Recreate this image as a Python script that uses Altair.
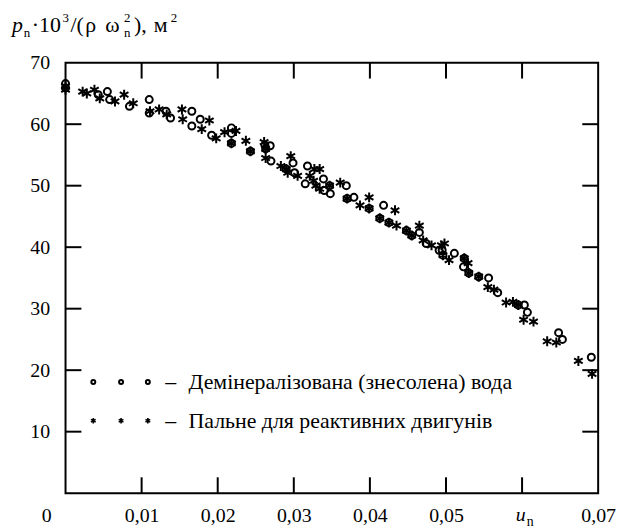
import altair as alt
import pandas as pd

# ---- data ----
water_x = [0.0, 0.0, 0.0043, 0.0055, 0.0058, 0.0084, 0.011, 0.011, 0.0132, 0.0138,
           0.0166, 0.0166, 0.0177, 0.0192, 0.0218, 0.0218, 0.0218, 0.0243, 0.0262, 0.0269,
           0.0263, 0.027, 0.029, 0.0299, 0.0301, 0.0318, 0.0315, 0.0339, 0.034, 0.0347,
           0.0348, 0.0369, 0.037, 0.0379, 0.0399, 0.0418, 0.0413, 0.0425, 0.0448, 0.0465,
           0.0455, 0.0474, 0.0495, 0.0491, 0.0496, 0.0511, 0.0524, 0.0523, 0.053, 0.0543,
           0.0556, 0.0568, 0.0595, 0.0603, 0.0607, 0.0648, 0.0653, 0.0691]
water_y = [66.6, 65.9, 64.8, 65.3, 64.0, 62.9, 64.0, 61.8, 62.1, 61.0,
           62.1, 59.7, 60.8, 58.2, 59.4, 58.5, 56.9, 55.6, 56.6, 56.5,
           56.0, 54.0, 52.7, 53.7, 52.1, 53.2, 50.3, 51.1, 49.2, 50.0,
           48.7, 50.0, 47.9, 48.1, 46.3, 46.8, 44.7, 44.0, 42.7, 42.4,
           41.9, 40.6, 39.5, 39.5, 38.7, 39.0, 38.2, 36.8, 35.8, 35.2,
           35.0, 32.6, 30.6, 30.6, 29.4, 26.1, 25.0, 22.1]

fuel_x = [0.0, 0.0, 0.00225, 0.0028, 0.0038, 0.0045, 0.0065, 0.0077, 0.0089, 0.0111,
          0.0123, 0.0133, 0.0153, 0.0154, 0.0189, 0.0179, 0.0198, 0.0209, 0.0224, 0.0218,
          0.0237, 0.0243, 0.0261, 0.0263, 0.0263, 0.0283, 0.0296, 0.029, 0.0292, 0.0305,
          0.0327, 0.0321, 0.0329, 0.0326, 0.0334, 0.0347, 0.0334, 0.0361, 0.037, 0.0387,
          0.0399, 0.0399, 0.0433, 0.0413, 0.0425, 0.0435, 0.0448, 0.0465, 0.0455, 0.047,
          0.0481, 0.0494, 0.0498, 0.0496, 0.0504, 0.0524, 0.0529, 0.053, 0.0543, 0.0555,
          0.0563, 0.0579, 0.0588, 0.0595, 0.0602, 0.0615, 0.0633, 0.0645, 0.0674, 0.0692]
fuel_y = [66.2, 65.6, 65.3, 65.0, 65.6, 64.2, 63.7, 64.8, 63.4, 62.1,
          62.4, 61.6, 62.4, 60.8, 60.6, 59.2, 57.7, 58.7, 58.9, 56.9,
          57.3, 55.6, 57.1, 56.0, 54.5, 53.2, 54.8, 52.7, 52.1, 51.6,
          52.7, 51.6, 50.0, 50.8, 52.7, 50.0, 49.5, 50.5, 47.9, 46.8,
          48.1, 46.3, 46.0, 44.7, 44.0, 43.5, 42.7, 43.5, 41.9, 41.1,
          40.3, 40.3, 40.6, 38.7, 37.9, 38.2, 37.4, 35.8, 35.2, 33.5,
          33.1, 31.0, 31.1, 30.6, 28.2, 27.9, 24.7, 24.5, 21.5, 19.4]

x_ticks = [0.01, 0.02, 0.03, 0.04, 0.05, 0.06]
x_labels = [0.01, 0.02, 0.03, 0.04, 0.05, 0.06, 0.07]
y_ticks = [10, 20, 30, 40, 50, 60]
y_labels = [10, 20, 30, 40, 50, 60, 70]
legend_water = "Демінералізована (знесолена) вода"
legend_fuel = "Пальне для реактивних двигунів"

W, H = 537, 434
TL = 16
FONT = "Liberation Serif"
STAR = "M0,-1L0,1M-0.87,-0.5L0.87,0.5M-0.87,0.5L0.87,-0.5"

xs = alt.Scale(domain=[0, 0.07], nice=False, zero=False)
ys = alt.Scale(domain=[0, 70], nice=False, zero=False)

water = pd.DataFrame({"x": water_x, "y": water_y})
fuel = pd.DataFrame({"x": fuel_x, "y": fuel_y})

base_x = alt.X("x:Q", scale=xs, title=None,
               axis=alt.Axis(values=x_labels, domain=False, ticks=False, grid=False,
                             labelExpr="datum.value > 0.0595 && datum.value < 0.0605 ? '' : replace(format(datum.value, '.2f'), '.', ',')",
                             labelFont=FONT, labelFontSize=20, labelColor="black",
                             labelPadding=13, labelFlush=False, labelOverlap=False))
base_y = alt.Y("y:Q", scale=ys, title=None,
               axis=alt.Axis(values=y_labels, domain=False, ticks=False, grid=False,
                             format="d", labelFont=FONT, labelFontSize=20, labelColor="black",
                             labelPadding=16, labelFlush=False, labelOverlap=False))

pts_w = alt.Chart(water).mark_point(shape="circle", filled=False, size=50, strokeWidth=2,
                                     color="black", opacity=1).encode(x=base_x, y=base_y)
pts_f = alt.Chart(fuel).mark_point(shape=STAR, filled=False, size=100, strokeWidth=2,
                                    color="black", opacity=1).encode(x="x:Q", y="y:Q")

xt = pd.DataFrame({"x": x_ticks})
yt = pd.DataFrame({"y": y_ticks})
tick_b = alt.Chart(xt).mark_rule(strokeWidth=2, color="black").encode(
    x="x:Q", y=alt.value(H), y2=alt.value(H - TL))
tick_t = alt.Chart(xt).mark_rule(strokeWidth=2, color="black").encode(
    x="x:Q", y=alt.value(0), y2=alt.value(TL))
tick_l = alt.Chart(yt).mark_rule(strokeWidth=2, color="black").encode(
    y="y:Q", x=alt.value(0), x2=alt.value(TL))
tick_r = alt.Chart(yt).mark_rule(strokeWidth=2, color="black").encode(
    y="y:Q", x=alt.value(W), x2=alt.value(W - TL))

one = alt.Data(values=[{}])


def txt(t, x, y, size=20, italic=False, align="left", baseline="alphabetic"):
    return alt.Chart(one).mark_text(text=t, font=FONT, fontSize=size,
                                    fontStyle="italic" if italic else "normal",
                                    align=align, baseline=baseline, color="black").encode(
        x=alt.value(x), y=alt.value(y))


def sym(shape, x, y, size, sw):
    return alt.Chart(one).mark_point(shape=shape, filled=False, size=size, strokeWidth=sw,
                                     color="black", opacity=1).encode(
        x=alt.value(x), y=alt.value(y))


ox, oy = 66, 61  # plot origin in page pixels
T, S = 22, 13
texts = [
    txt("0", 47 - ox, 518 - oy, align="center", baseline="middle"),
    txt("u", 525 - ox, 517 - oy, italic=True, align="center", baseline="middle"),
    txt("n", 531 - ox, 528 - oy, size=14),
    # y title pieces
    txt("p", 12 - ox, 30 - oy, size=T, italic=True),
    txt("n", 24 - ox, 35 - oy, size=S),
    txt("·10", 32 - ox, 30 - oy, size=T),
    txt("3", 63 - ox, 20 - oy, size=S),
    txt("/(", 71 - ox, 30 - oy, size=T),
    txt("ρ", 86 - ox, 30 - oy, size=T),
    txt("ω", 106 - ox, 30 - oy, size=T),
    txt("n", 125 - ox, 35 - oy, size=S),
    txt("2", 125 - ox, 20 - oy, size=S),
    txt("),", 135 - ox, 30 - oy, size=T),
    txt("м", 155 - ox, 30 - oy, size=T),
    txt("2", 172 - ox, 20 - oy, size=S),
    # legend
    txt("–", 172 - ox, 383 - oy, size=22, align="center", baseline="middle"),
    txt("–", 172 - ox, 422 - oy, size=22, align="center", baseline="middle"),
    txt(legend_water, 190 - ox, 383 - oy, size=22, baseline="middle"),
    txt(legend_fuel, 190 - ox, 422 - oy, size=22, baseline="middle"),
]
legend_syms = [sym("circle", px - ox, 383 - oy, 16, 2) for px in (94, 122, 149)] + \
              [sym(STAR, px - ox, 422 - oy, 30, 1.6) for px in (94, 122, 149)]

chart = alt.layer(pts_w, pts_f, tick_b, tick_t, tick_l, tick_r, *texts, *legend_syms).properties(
    width=W, height=H,
    autosize=alt.AutoSizeParams(type="none"),
    padding={"left": 58, "top": 53, "right": 20, "bottom": 36},
    background="white",
).configure_view(stroke="black", strokeWidth=2)

chart.save("out.html", embed_options={"renderer": "svg", "actions": False})
